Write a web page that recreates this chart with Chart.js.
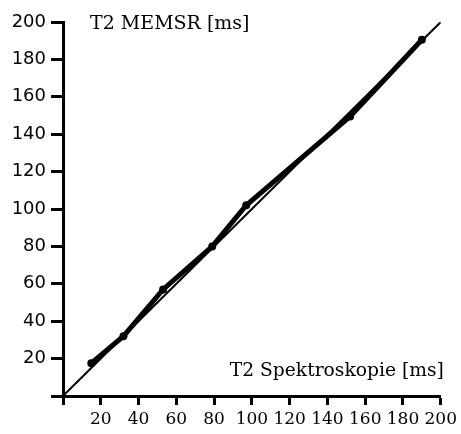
<!DOCTYPE html>
<html>
<head>
<meta charset="utf-8">
<script src="https://cdn.jsdelivr.net/npm/chart.js@4"></script>
<style>
  html, body { margin: 0; padding: 0; background: #fff; }
  #wrap { width: 461px; height: 434px; }
</style>
</head>
<body>
<div id="wrap"><canvas id="myChart" width="461" height="434"></canvas></div>
<script>
// T2 values (ms)
var spektroskopie = [15, 32, 53, 79, 97, 152, 190]
var memsr = [17.5, 32, 57, 80, 102, 149.5, 190.5]
var identityX = [0, 200]
var identityY = [0, 200]
var tickValues = [0, 20, 40, 60, 80, 100, 120, 140, 160, 180, 200]

function toPoints(xs, ys){
    var pts = []
    for (var i = 0; i < xs.length; i++){
        pts.push({x: xs[i], y: ys[i]})
    }
    return pts
}

function hideZero(value){
    return value === 0 ? '' : value
}

// axis titles sit inside the plot, like in the original
var axisTitles = {
    id: 'axisTitles',
    afterDraw: function(chart){
        var ctx = chart.ctx
        var area = chart.chartArea
        ctx.save()
        ctx.fillStyle = '#000'
        ctx.font = '19px "DejaVu Serif"'
        ctx.textBaseline = 'alphabetic'
        ctx.textAlign = 'left'
        ctx.fillText('T2 MEMSR [ms]', area.left + 27, area.top + 7, 163)
        ctx.textAlign = 'right'
        ctx.fillText('T2 Spektroskopie [ms]', area.right + 3, area.bottom - 20, 214)
        ctx.restore()
    }
}

let myChart = document.getElementById('myChart').getContext('2d')

var t2Chart = new Chart(myChart, {
    type: 'scatter',
    data: {
        datasets: [{
            label: 'Identitaet',
            data: toPoints(identityX, identityY),
            showLine: true,
            borderColor: '#000',
            borderWidth: 2,
            pointRadius: 0
        }, {
            label: 'T2',
            data: toPoints(spektroskopie, memsr),
            showLine: true,
            borderColor: '#000',
            backgroundColor: '#000',
            borderWidth: 5,
            pointRadius: 4,
            pointBorderWidth: 0
        }]
    },
    options: {
        responsive: false,
        animation: false,
        layout: {padding: {top: 22, right: 19, left: 0, bottom: 0}},
        plugins: {legend: {display: false}, tooltip: {enabled: false}},
        scales: {
            x: {
                min: 0,
                max: 200,
                afterBuildTicks: function(scale){
                    scale.ticks = tickValues.map(function(v){ return {value: v} })
                },
                afterFit: function(scale){ scale.height = 38 },
                border: {display: true, color: '#000', width: 3},
                grid: {drawOnChartArea: false, drawTicks: true, tickLength: 9, tickWidth: 3, color: '#000'},
                ticks: {
                    color: '#000',
                    padding: 4,
                    maxRotation: 0,
                    autoSkip: false,
                    font: {family: 'DejaVu Serif', size: 17},
                    callback: hideZero
                }
            },
            y: {
                min: 0,
                max: 200,
                afterBuildTicks: function(scale){
                    scale.ticks = tickValues.map(function(v){ return {value: v} })
                },
                afterFit: function(scale){ scale.width = 63 },
                border: {display: true, color: '#000', width: 3},
                grid: {drawOnChartArea: false, drawTicks: true, tickLength: 12, tickWidth: 3, color: '#000'},
                ticks: {
                    color: '#000',
                    padding: 5,
                    autoSkip: false,
                    font: {family: 'DejaVu Sans', size: 18},
                    callback: hideZero
                }
            }
        }
    },
    plugins: [axisTitles]
})
</script>
</body>
</html>
